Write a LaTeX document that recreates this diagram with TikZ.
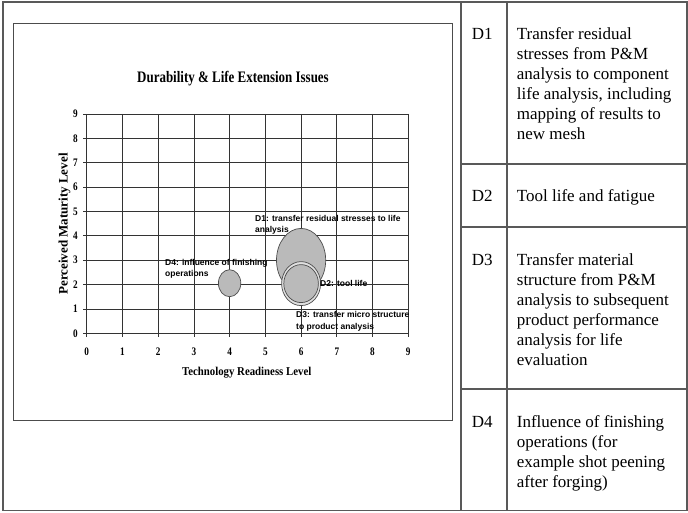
\documentclass[tikz,border=0pt]{standalone}
\usepackage{fontspec}
\setmainfont{Liberation Serif}
\setsansfont{Liberation Sans}
\begin{document}
\begin{tikzpicture}[x=1pt,y=-1pt,
  outer/.style={draw=black!65, line width=1.2pt},
  chartframe/.style={draw=black!70, line width=1pt},
  gridline/.style={draw=black!80, line width=0.7pt},
  bubble/.style={draw=black!70, line width=0.7pt, fill=black!27},
  ticklabel/.style={font=\bfseries\fontsize{11.5}{12}\selectfont, xscale=0.8, inner sep=0pt},
  axistitle/.style={font=\bfseries\fontsize{12}{13}\selectfont, inner sep=0pt},
  charttitle/.style={font=\bfseries\fontsize{16}{18}\selectfont, xscale=0.81, inner sep=0pt},
  lbl/.style={font=\sffamily\bfseries\fontsize{8.5}{11.7}\selectfont, align=left, anchor=north west, inner sep=0pt},
  cellkey/.style={font=\fontsize{17}{20}\selectfont, anchor=base west, inner sep=0pt},
  celltext/.style={font=\fontsize{17}{20}\selectfont, align=left, anchor=north west, inner sep=0pt}]
\useasboundingbox (0,0) rectangle (688,512);

% table frame and cell rules
\draw[outer] (3,2) rectangle (687,510.7);
\draw[outer] (461,2) -- (461,510.7);
\draw[outer] (507,2) -- (507,510.7);
\draw[outer] (461,164) -- (687,164);
\draw[outer] (461,227) -- (687,227);
\draw[outer] (461,389) -- (687,389);

% chart area
\draw[chartframe] (13.5,23) rectangle (452,420);
\node[charttitle] (title) at (233,79) {Durability \& Life Extension Issues};

\foreach \i in {0,...,9} {
  \draw[gridline] ({86.7+35.73*\i},113.9) -- ({86.7+35.73*\i},333.3);
  \draw[gridline] (86.7,{333.3-24.37*\i}) -- (408.3,{333.3-24.37*\i});
  \draw[gridline] ({86.7+35.73*\i},333.3) -- ++(0,4);
  \draw[gridline] (86.7,{333.3-24.37*\i}) -- ++(-4,0);
  \node[ticklabel] (xt\i) at ({86.7+35.73*\i},352) {\i};
  \node[ticklabel] (yt\i) at (75.5,{333.3-24.37*\i}) {\i};
}

\node[axistitle, xscale=0.9] (xtitle) at (246.7,373) {Technology Readiness Level};
\node[axistitle, rotate=90, font=\bfseries\fontsize{13}{14}\selectfont] (ytitle) at (64.5,224) {Perceived Maturity Level};

% bubbles
\draw[bubble] (301.1,260.2) ellipse [x radius=24.6pt, y radius=31.8pt];
\draw[bubble, fill=black!12] (301.1,283.6) ellipse [x radius=19.5pt, y radius=22pt];
\draw[bubble] (301.1,283.6) ellipse [x radius=17.3pt, y radius=19pt];
\draw[bubble] (229.6,283.2) ellipse [x radius=11.2pt, y radius=13.5pt];

% bubble labels
\node[lbl] (l1) at (255,212.8) {\strut D1: transfer residual stresses to life\\analysis};
\node[lbl] (l4) at (165,256.8) {\strut D4: influence of finishing\\operations};
\node[lbl] (l2) at (320,278.5) {\strut D2: tool life};
\node[lbl] (l3) at (296,309.1) {\strut D3: transfer micro structure\\to product analysis};

% table contents
\node[cellkey] (k1) at (471.7,39.5) {D1};
\node[celltext] (t1) at (516.7,25.5) {\strut Transfer residual\\stresses from P\&M\\analysis to component\\life analysis, including\\mapping of results to\\new mesh};
\node[cellkey] (k2) at (471.7,201.7) {D2};
\node[celltext] (t2) at (516.7,187.7) {\strut Tool life and fatigue};
\node[cellkey] (k3) at (471.7,265) {D3};
\node[celltext] (t3) at (516.7,251) {\strut Transfer material\\structure from P\&M\\analysis to subsequent\\product performance\\analysis for life\\evaluation};
\node[cellkey] (k4) at (471.7,427) {D4};
\node[celltext] (t4) at (516.7,413) {\strut Influence of finishing\\operations (for\\example shot peening\\after forging)};
\end{tikzpicture}
\end{document}
